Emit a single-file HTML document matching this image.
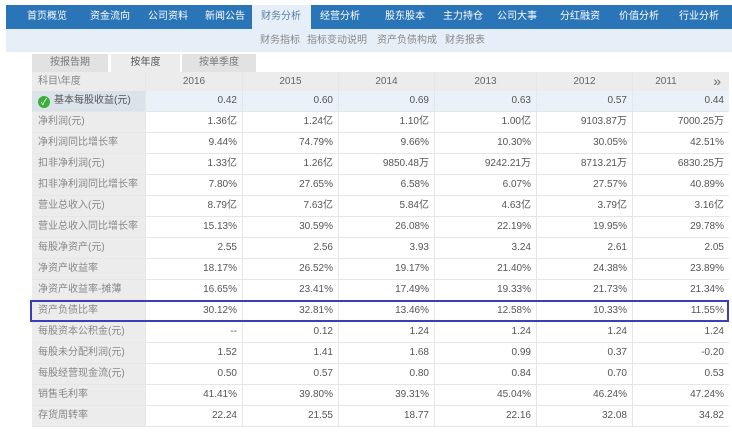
<!DOCTYPE html>
<html><head><meta charset="utf-8"><style>
body{margin:0;width:732px;height:432px;background:#fff;position:relative;overflow:hidden;font-family:"Liberation Sans","Noto Sans CJK SC",sans-serif;font-size:10px;color:#555}
.a{position:absolute;white-space:nowrap}
#nav{left:6px;top:5px;width:726px;height:24px;background:#2a74b8}
.ni{position:absolute;top:5px;line-height:24px;color:#fff;font-size:10px;white-space:nowrap;transform:translateX(-50%)}
#sub{left:6px;top:29px;width:726px;height:23px;background:#e6eff8}
.si{position:absolute;top:29px;line-height:23px;color:#888;font-size:10px;white-space:nowrap;transform:translateX(-50%)}
.tab{position:absolute;top:54px;height:18px;line-height:18px;text-align:center;background:#e2e2e2;color:#777;font-size:10px}
.row{position:absolute;left:32px;width:697px;height:21px;border-bottom:1px solid #e6e6e6;box-sizing:border-box}
.c0{position:absolute;left:0;top:0;width:113px;height:20px;line-height:20px;background:#ececec;padding-left:6px;box-sizing:border-box;color:#888;white-space:nowrap}
.c{position:absolute;top:0;height:20px;line-height:20px;text-align:right;border-left:1px solid #e6e6e6;box-sizing:border-box;padding-right:5px;color:#555;white-space:nowrap}
</style></head><body>
<div class="a" id="nav"></div>
<div class="a" style="left:252px;top:5px;width:59px;height:24px;background:#e6eff8"></div>
<div class="a" id="sub"></div>
<div id="navitems"></div>
<div class="tab" style="left:32px;width:76px">按报告期</div>
<div class="tab" style="left:111px;width:69px;background:#ececec;color:#555">按年度</div>
<div class="tab" style="left:182px;width:74px">按单季度</div>
<div id="tbl"></div>
<div class="a" style="left:30px;top:300px;width:699px;height:22px;border:2px solid #3a3fb3;box-sizing:border-box"></div>
<script>
const navLabels=["首页概览","资金流向","公司资料","新闻公告","财务分析","经营分析","股东股本","主力持仓","公司大事","分红融资","价值分析","行业分析"];
const navX=[47,110,168,225,281,340,405,463,517,580,639,699];
const subLabels=["财务指标","指标变动说明","资产负债构成","财务报表"];
const subX=[280,337,407,465];
const years=["2016","2015","2014","2013","2012","2011"];
const rowLabels=["基本每股收益(元)","净利润(元)","净利润同比增长率","扣非净利润(元)","扣非净利润同比增长率","营业总收入(元)","营业总收入同比增长率","每股净资产(元)","净资产收益率","净资产收益率-摊薄","资产负债比率","每股资本公积金(元)","每股未分配利润(元)","每股经营现金流(元)","销售毛利率","存货周转率"];
const values=[
["0.42","0.60","0.69","0.63","0.57","0.44"],
["1.36亿","1.24亿","1.10亿","1.00亿","9103.87万","7000.25万"],
["9.44%","74.79%","9.66%","10.30%","30.05%","42.51%"],
["1.33亿","1.26亿","9850.48万","9242.21万","8713.21万","6830.25万"],
["7.80%","27.65%","6.58%","6.07%","27.57%","40.89%"],
["8.79亿","7.63亿","5.84亿","4.63亿","3.79亿","3.16亿"],
["15.13%","30.59%","26.08%","22.19%","19.95%","29.78%"],
["2.55","2.56","3.93","3.24","2.61","2.05"],
["18.17%","26.52%","19.17%","21.40%","24.38%","23.89%"],
["16.65%","23.41%","17.49%","19.33%","21.73%","21.34%"],
["30.12%","32.81%","13.46%","12.58%","10.33%","11.55%"],
["--","0.12","1.24","1.24","1.24","1.24"],
["1.52","1.41","1.68","0.99","0.37","-0.20"],
["0.50","0.57","0.80","0.84","0.70","0.53"],
["41.41%","39.80%","39.31%","45.04%","46.24%","47.24%"],
["22.24","21.55","18.77","22.16","32.08","34.82"]];
const colL=[113,210,306,402,504,600,697];
const ni=document.getElementById('navitems');
navLabels.forEach((t,i)=>{const d=document.createElement('div');d.className='ni';d.style.left=navX[i]+'px';if(i===4)d.style.color='#5a7fa8';d.textContent=t;


ni.appendChild(d);});
subLabels.forEach((t,i)=>{const d=document.createElement('div');d.className='si';d.style.left=subX[i]+'px';d.textContent=t;


ni.appendChild(d);});
const tb=document.getElementById('tbl');
function mkRow(top,label,cells,hdr,idx){
 const r=document.createElement('div');r.className='row';r.style.top=top+'px';
 
 
 if(hdr)r.style.background='#ececec';
 if(idx===0)r.style.background='#eaf1f8';
 const c0=document.createElement('div');c0.className='c0';
 if(idx===0){c0.style.background='#dbe3ea';c0.style.color='#555';c0.innerHTML='<span style="display:inline-block;width:12px;height:12px;border-radius:50%;background:#3cae3c;color:#fff;font-size:9px;line-height:12px;text-align:center;vertical-align:-2px;margin-right:4px">✓</span>'+label;}
 else c0.textContent=label;
 r.appendChild(c0);
 cells.forEach((v,j)=>{const c=document.createElement('div');c.className='c';c.style.left=colL[j]+'px';c.style.width=(colL[j+1]-colL[j])+'px';
 if(hdr){c.style.textAlign='center';c.style.paddingRight='0';c.style.color='#666';}
 c.textContent=v;
 
 
 r.appendChild(c);});
 if(hdr){const s=document.createElement('div');s.className='a';s.style.right='8px';s.style.top='1px';s.style.fontSize='14px';s.style.color='#666';s.textContent='»';
 
 
 r.appendChild(s);r.lastChild.previousSibling.style.paddingRight='30px';}
 tb.appendChild(r);}
mkRow(72,'科目\\年度',years,true,-1);
rowLabels.forEach((l,i)=>mkRow(91+i*21,l,values[i],false,i));
</script>
</body></html>
